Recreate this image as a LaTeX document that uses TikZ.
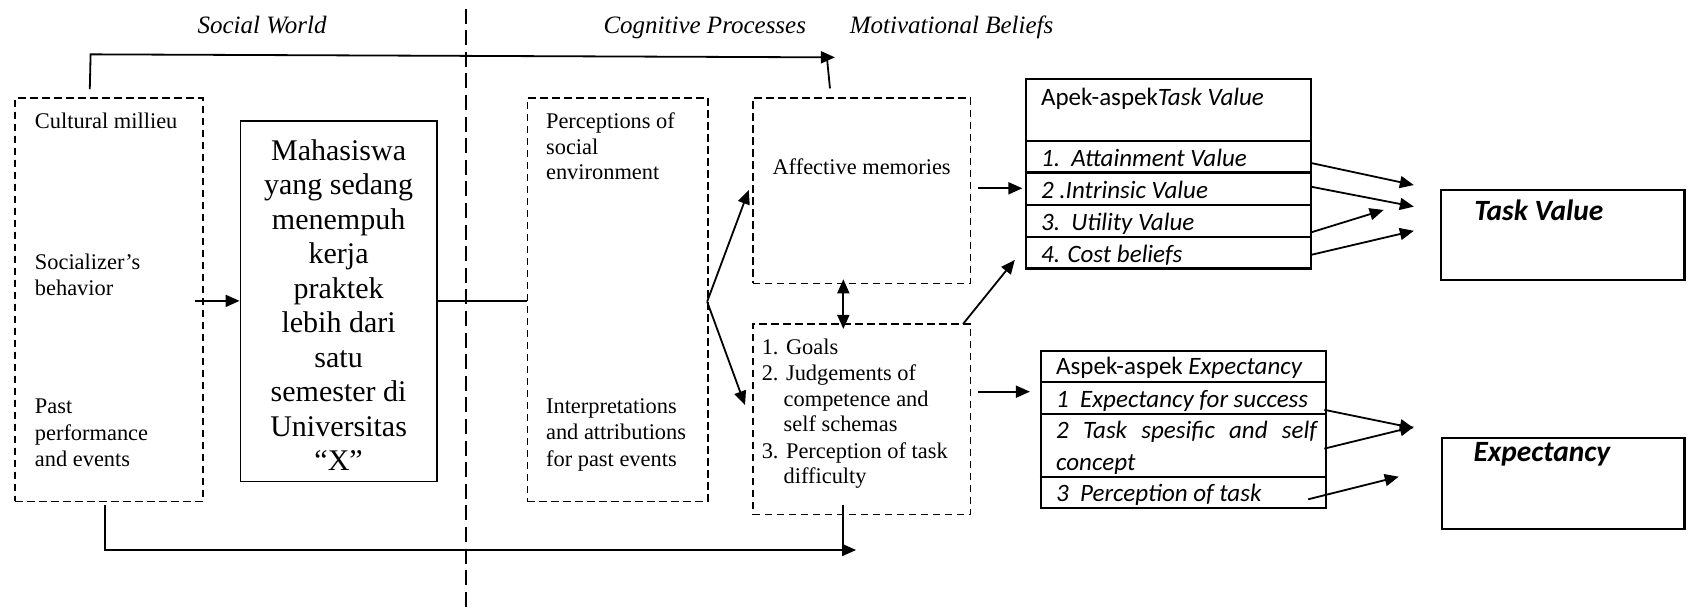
\documentclass[tikz,border=0pt]{standalone}
\usepackage{fontspec}
\setmainfont{Liberation Serif}
\newfontfamily\calib{Carlito}
\usetikzlibrary{arrows.meta,fit,calc}
\begin{document}
\begin{tikzpicture}[x=0.5392pt,y=-0.5392pt,
  dbox/.style={draw,dash pattern=on 3.8pt off 2.2pt,line width=0.8pt,inner sep=0pt},
  sbox/.style={draw,line width=0.9pt,inner sep=0pt},
  tbox/.style={draw,line width=1.1pt,inner sep=0pt},
  txt/.style={anchor=base west,inner sep=0pt,font=\fontsize{11.2}{13.2}\selectfont},
  head/.style={anchor=base,inner sep=0pt,font=\fontsize{12.5}{15}\selectfont\itshape},
  ctxt/.style={anchor=base west,inner sep=0pt,font=\calib\fontsize{12.5}{15}\selectfont},
  big/.style={anchor=base west,inner sep=0pt,font=\calib\fontsize{14.7}{17}\selectfont\bfseries\itshape},
  conn/.style={line width=0.9pt},
  arr/.style={line width=0.9pt,-{Triangle[length=7pt,width=6pt]}},
  darr/.style={line width=0.9pt,{Triangle[length=7pt,width=6pt]}-{Triangle[length=7pt,width=6pt]}},
]
\useasboundingbox (0,0) rectangle (1568,568);

% headings
\node[head] (hsw) at (243,31.5) {Social World};
\node[head] (hcp) at (653.5,31.5) {Cognitive Processes};
\node[head] (hmb) at (882.4,31.5) {Motivational Beliefs};

% divider
\coordinate (dv1) at (432,8);
\coordinate (dv2) at (432,568);
\draw[line width=1.2pt,dash pattern=on 7.5pt off 3.3pt] (dv1) -- (dv2);

% boxes
\node[dbox,fit={(14,91)(188,465)}] (L) {};
\node[sbox,fit={(223,112)(405,446.5)}] (M) {};
\node[dbox,fit={(489,91)(656.4,465)}] (P) {};
\node[dbox,fit={(698,91)(900,262.7)}] (A) {};
\node[dbox,fit={(698,300.4)(900,477)}] (G) {};
\node[tbox,fit={(951.5,73)(1215.5,249)}] (TV) {};
\node[tbox,fit={(1336,176)(1562,260)}] (TVB) {};
\node[tbox,fit={(965,325.5)(1229.5,471)}] (EX) {};
\node[tbox,fit={(1337,406)(1562,490.5)}] (EXB) {};

% table row lines
\foreach \y in {130.5,160,189.8,219.5} \draw[line width=1.1pt] (TV.west |- 0,\y) -- (TV.east |- 0,\y);
\foreach \y in {354.5,384,442} \draw[line width=1.1pt] (EX.west |- 0,\y) -- (EX.east |- 0,\y);

% left box text
\node[txt] (l1) at (32,119) {Cultural millieu};
\node[txt] (l2) at (32,250) {Socializer’s};
\node[txt] (l3) at (32,274) {behavior};
\node[txt] (l4) at (32,383.5) {Past};
\node[txt] (l5) at (32,408) {performance};
\node[txt] (l6) at (32,432.5) {and events};

% Mahasiswa text
\node[align=center,inner sep=0pt,font=\fontsize{15}{17.23}\selectfont] (mt) at (314,283)
 {Mahasiswa\\yang sedang\\menempuh\\kerja\\praktek\\lebih dari\\satu\\semester di\\Universitas\\“X”};

% perceptions text
\node[txt] (p1) at (506,119) {Perceptions of};
\node[txt] (p2) at (506,143.5) {social};
\node[txt] (p3) at (506,166.7) {environment};
\node[txt] (p4) at (506,383.7) {Interpretations};
\node[txt] (p5) at (506,407.8) {and attributions};
\node[txt] (p6) at (506,432.6) {for past events};

% affective
\node[txt] (a1) at (716,161.5) {Affective memories};

% goals
\node[txt] (g1) at (706,329) {1. Goals};
\node[txt] (g2) at (706,352.8) {2. Judgements of};
\node[txt] (g3) at (726.3,377) {competence and};
\node[txt] (g4) at (726.3,400) {self schemas};
\node[txt] (g5) at (706,425) {3. Perception of task};
\node[txt] (g6) at (726.3,448) {difficulty};

% task value table
\node[ctxt] (t0) at (965,98) {Apek-aspek\textit{Task Value}};
\node[ctxt] (t1) at (965,154.5) {\textit{1.\ \ Attainment Value}};
\node[ctxt] (t2) at (965,184) {\textit{2 .Intrinsic Value}};
\node[ctxt] (t3) at (965,213.8) {\textit{3.\ \ Utility Value}};
\node[ctxt] (t4) at (965,243.5) {\textit{4. Cost beliefs}};

\node[big] (tvt) at (1366.7,204) {Task Value};
\node[big] (ext) at (1366,428) {Expectancy};

% expectancy table
\node[ctxt] (e0) at (979,347.5) {Aspek-aspek \textit{Expectancy}};
\node[ctxt] (e1) at (979,377.5) {\textit{1\ \ Expectancy for success}};
\node[ctxt] (e2) at (979,406.5) {\makebox[131pt][s]{\textit{2 Task spesific and self}}};
\node[ctxt] (e3) at (979,436.5) {\textit{concept}};
\node[ctxt] (e4) at (979,465) {\textit{3\ \ Perception of task}};

% connectors
\coordinate (ls) at ($(L.north west)+(70,-7.5)$);
\coordinate (tl) at (84,50.4);
\coordinate (tr) at (774.2,53.2);
\draw[arr] (ls) -- (tl) -- (tr);
\coordinate (as) at (769.6,82);
\coordinate (ae) at (767,55.6);
\draw[conn] (as) -- (ae);

\coordinate (lm) at (181,279);
\draw[arr] (lm) -- (lm -| M.west);
\draw[conn] (M.east |- lm) -- (P.west |- lm);

\coordinate (pf) at (655.7,279.7);
\coordinate (pa) at (694.3,176.2);
\coordinate (pg) at (690.8,375.6);
\draw[arr] (pf) -- (pa);
\draw[arr] (pf) -- (pg);

\coordinate (at1) at (907,174.6);
\coordinate (at2) at (948,174.6);
\draw[arr] (at1) -- (at2);

\coordinate (ag1) at (782,259);
\coordinate (ag2) at (782,305);
\draw[darr] (ag1) -- (ag2);

\coordinate (gt1) at (893,300.4);
\coordinate (gt2) at (941,241);
\draw[arr] (gt1) -- (gt2);

\coordinate (ge1) at (907,363.2);
\coordinate (ge2) at (955,363.2);
\draw[arr] (ge1) -- (ge2);

\coordinate (b1) at (97,468);
\coordinate (b2) at (97,510);
\coordinate (b3) at (793.8,510);
\draw[arr] (b1) -- (b2) -- (b3);
\coordinate (gb1) at (782,468.3);
\coordinate (gb2) at (782,510);
\draw[conn] (gb1) -- (gb2);

% task value arrows
\coordinate (v1a) at (1215,151);   \coordinate (v1b) at (1311,171.6);
\coordinate (v2a) at (1215,173);   \coordinate (v2b) at (1311,191.6);
\coordinate (v3a) at (1215,215.7); \coordinate (v3b) at (1283,194.7);
\coordinate (v4a) at (1215,236.5); \coordinate (v4b) at (1311,214);
\draw[arr] (v1a) -- (v1b);
\draw[arr] (v2a) -- (v2b);
\draw[arr] (v3a) -- (v3b);
\draw[arr] (v4a) -- (v4b);

% expectancy arrows
\coordinate (x1a) at (1228,380);   \coordinate (x1b) at (1311,397);
\coordinate (x2a) at (1228,416);   \coordinate (x2b) at (1311,395.7);
\coordinate (x3a) at (1213,463);   \coordinate (x3b) at (1297,442);
\draw[arr] (x1a) -- (x1b);
\draw[arr] (x2a) -- (x2b);
\draw[arr] (x3a) -- (x3b);
\end{tikzpicture}
\end{document}
